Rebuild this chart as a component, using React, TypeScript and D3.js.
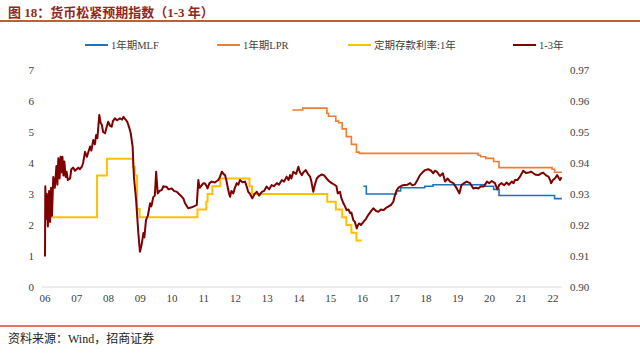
import React from "react";
import * as d3 from "d3";

const W = 640;
const H = 353;

const yearTicks = [2006, 2007, 2008, 2009, 2010, 2011, 2012, 2013, 2014, 2015, 2016, 2017, 2018, 2019, 2020, 2021, 2022];
const leftTicks = [0, 1, 2, 3, 4, 5, 6, 7];
const rightTicks = [0.9, 0.91, 0.92, 0.93, 0.94, 0.95, 0.96, 0.97];

const seriesNames = ["1年期MLF", "1年期LPR", "定期存款利率:1年", "1-3年"];

const mlfDates = [2016.03, 2016.12, 2017.07, 2017.2, 2017.96, 2018.22, 2019.87, 2020.13, 2020.3, 2022.05, 2022.28];
const mlfValues = [3.25, 3.0, 3.1, 3.2, 3.25, 3.3, 3.25, 3.15, 2.95, 2.85, 2.85];

const lprDates = [2013.79, 2014.12, 2014.88, 2014.93, 2015.16, 2015.25, 2015.36, 2015.49, 2015.65, 2015.81, 2015.9, 2019.64, 2019.72, 2019.88, 2020.13, 2020.3, 2021.97, 2022.05, 2022.28];
const lprValues = [5.71, 5.77, 5.6, 5.51, 5.35, 5.3, 5.1, 4.85, 4.6, 4.35, 4.31, 4.25, 4.2, 4.15, 4.05, 3.85, 3.8, 3.7, 3.7];

const depDates = [2006.18, 2007.64, 2007.95, 2008.77, 2008.83, 2008.9, 2008.98, 2010.8, 2011.08, 2011.12, 2011.27, 2011.52, 2012.44, 2012.52, 2014.89, 2015.16, 2015.36, 2015.49, 2015.65, 2015.81, 2015.98];
const depValues = [2.25, 3.6, 4.14, 3.87, 3.6, 2.52, 2.25, 2.5, 2.75, 3.0, 3.25, 3.5, 3.25, 3.0, 2.75, 2.5, 2.25, 2.0, 1.75, 1.5, 1.5];

const y13Dates = [
  2006.0, 2006.01, 2006.03, 2006.06, 2006.09, 2006.13, 2006.16, 2006.19, 2006.22, 2006.26, 2006.31, 2006.36, 2006.39, 2006.42, 2006.46, 2006.49,
  2006.53, 2006.55, 2006.58, 2006.61, 2006.65, 2006.68, 2006.72, 2006.79, 2006.83, 2006.89, 2006.94, 2007.05, 2007.1, 2007.16, 2007.2, 2007.26,
  2007.32, 2007.42, 2007.46, 2007.52, 2007.57, 2007.61, 2007.65, 2007.71, 2007.75, 2007.79, 2007.83, 2007.89, 2007.94, 2007.99, 2008.05, 2008.1,
  2008.14, 2008.2, 2008.27, 2008.36, 2008.43, 2008.47, 2008.54, 2008.59, 2008.65, 2008.7, 2008.76, 2008.8, 2008.87, 2008.94, 2008.99, 2009.04,
  2009.1, 2009.13, 2009.18, 2009.24, 2009.31, 2009.35, 2009.41, 2009.46, 2009.5, 2009.55, 2009.61, 2009.68, 2009.73, 2009.78, 2009.83, 2009.89,
  2009.99, 2010.06, 2010.15, 2010.22, 2010.31, 2010.36, 2010.41, 2010.51, 2010.62, 2010.69, 2010.78, 2010.83, 2010.87, 2010.94, 2010.99, 2011.04,
  2011.09, 2011.12, 2011.18, 2011.25, 2011.35, 2011.46, 2011.51, 2011.57, 2011.62, 2011.67, 2011.72, 2011.75, 2011.8, 2011.83, 2011.87, 2011.93,
  2011.98, 2012.04, 2012.09, 2012.14, 2012.22, 2012.3, 2012.35, 2012.4, 2012.46, 2012.53, 2012.6, 2012.67, 2012.74, 2012.83, 2012.9, 2012.98,
  2013.06, 2013.14, 2013.21, 2013.3, 2013.37, 2013.46, 2013.53, 2013.61, 2013.67, 2013.72, 2013.76, 2013.82, 2013.91, 2013.98, 2014.03, 2014.09,
  2014.14, 2014.21, 2014.28, 2014.35, 2014.39, 2014.45, 2014.5, 2014.56, 2014.63, 2014.72, 2014.79, 2014.87, 2014.94, 2015.03, 2015.13, 2015.18,
  2015.22, 2015.29, 2015.34, 2015.4, 2015.45, 2015.5, 2015.56, 2015.61, 2015.65, 2015.71, 2015.76, 2015.82, 2015.86, 2015.89, 2015.95, 2016.03,
  2016.11, 2016.18, 2016.27, 2016.34, 2016.43, 2016.5, 2016.58, 2016.66, 2016.74, 2016.81, 2016.9, 2016.97, 2017.02, 2017.08, 2017.13, 2017.18,
  2017.26, 2017.34, 2017.42, 2017.5, 2017.57, 2017.65, 2017.73, 2017.81, 2017.89, 2017.97, 2018.07, 2018.16, 2018.23, 2018.28, 2018.34, 2018.44,
  2018.53, 2018.6, 2018.68, 2018.76, 2018.86, 2018.97, 2019.05, 2019.12, 2019.2, 2019.28, 2019.39, 2019.49, 2019.58, 2019.65, 2019.73, 2019.82,
  2019.92, 2019.99, 2020.07, 2020.17, 2020.25, 2020.31, 2020.38, 2020.46, 2020.54, 2020.61, 2020.7, 2020.76, 2020.8, 2020.88, 2020.96, 2021.01,
  2021.06, 2021.15, 2021.24, 2021.31, 2021.38, 2021.46, 2021.54, 2021.62, 2021.69, 2021.78, 2021.86, 2021.91, 2021.94, 2022.0, 2022.06, 2022.13,
  2022.19, 2022.22, 2022.27,
];
const y13Values = [
  0.98, 3.25, 2.2, 3.0, 1.95, 3.1, 2.1, 3.2, 2.3, 3.55, 3.2, 3.9, 3.3, 4.15, 3.5, 4.2,
  3.7, 4.2, 3.6, 4.05, 3.55, 3.72, 3.45, 3.5, 3.8, 3.85, 3.75, 3.85, 3.8, 3.88, 4.0, 4.36,
  4.2, 4.53, 4.4, 4.74, 4.6, 4.9, 4.8, 5.55, 5.3, 5.23, 5.0, 4.96, 5.15, 5.33, 5.2, 5.17,
  5.35, 5.44, 5.38, 5.44, 5.4, 5.49, 5.4, 5.33, 5.15, 4.96, 4.53, 3.56, 2.8, 1.74, 1.14, 1.35,
  1.74, 1.6, 2.16, 2.3, 2.7, 2.6, 2.9, 2.95, 3.72, 3.02, 3.1, 3.13, 3.25, 3.23, 3.23, 3.15,
  3.18, 3.1, 3.07, 3.0, 2.91, 2.85, 2.7, 2.54, 2.57, 2.6, 2.65, 3.45, 3.2, 3.29, 3.35, 3.34,
  3.25, 3.18, 3.35, 3.4, 3.37, 3.45, 3.55, 3.72, 3.65, 3.61, 3.4, 3.24, 3.0, 2.91, 3.1, 3.02,
  3.2, 3.35, 3.3, 3.45, 3.38, 3.4, 3.25, 3.07, 3.0, 2.86, 3.0, 3.07, 2.95, 3.07, 3.1, 3.24,
  3.15, 3.29, 3.25, 3.35, 3.3, 3.45, 3.4, 3.56, 3.45, 3.61, 3.5, 3.72, 3.65, 3.88, 3.7, 3.61,
  3.7, 3.77, 3.65, 3.56, 3.4, 3.07, 3.3, 3.5, 3.58, 3.63, 3.6, 3.5, 3.42, 3.35, 3.29, 3.25,
  3.02, 3.07, 2.85, 2.7, 2.6, 2.48, 2.5, 2.38, 2.4, 2.16, 2.1, 1.89, 2.0, 2.05, 2.0, 2.1,
  2.2, 2.32, 2.45, 2.54, 2.45, 2.43, 2.5, 2.48, 2.55, 2.59, 2.65, 2.75, 2.95, 3.13, 3.2, 3.24,
  3.28, 3.29, 3.3, 3.35, 3.28, 3.31, 3.45, 3.61, 3.7, 3.77, 3.8, 3.75, 3.67, 3.75, 3.72, 3.58,
  3.67, 3.4, 3.5, 3.4, 3.35, 3.18, 3.02, 3.29, 3.35, 3.4, 3.35, 3.18, 3.2, 3.18, 3.25, 3.24,
  3.4, 3.35, 3.42, 3.35, 3.15, 3.3, 3.35, 3.28, 3.37, 3.3, 3.4, 3.35, 3.45, 3.45, 3.56, 3.65,
  3.75, 3.68, 3.69, 3.72, 3.67, 3.62, 3.61, 3.66, 3.69, 3.6, 3.56, 3.45, 3.35, 3.45, 3.5, 3.61,
  3.5, 3.45, 3.54,
];

const colors = ["#1f72c0", "#ed7d31", "#ffc000", "#7f0000"];

type P = [number, number];
const zip = (a: number[], b: number[]): P[] => a.map((d, i) => [d, b[i]]);

export default function App() {
  const x = d3.scaleLinear().domain([2006, 2022]).range([45, 553]);
  const y = d3.scaleLinear().domain([0, 7]).range([287, 70]);
  const yR = d3.scaleLinear().domain([0.9, 0.97]).range([287, 70]);

  const stepLine = d3
    .line<P>()
    .x((d) => x(d[0]))
    .y((d) => y(d[1]))
    .curve(d3.curveStepAfter);
  const plainLine = d3
    .line<P>()
    .x((d) => x(d[0]))
    .y((d) => y(d[1]));

  const font = "'Liberation Serif', 'Times New Roman', 'Noto Sans CJK SC', serif";
  const legendX = [85, 217, 348, 513];

  return (
    <svg width={W} height={H} style={{ position: "absolute", left: 0, top: 0 }} fontFamily={font}>
      <rect x={0} y={0} width={W} height={H} fill="#fff" />
      <text x={8} y={17} fontSize={13} fontWeight="bold" fill="#8e2a1e">
        图 18：货币松紧预期指数（1-3 年）
      </text>
      <line x1={0} x2={W} y1={21} y2={21} stroke="#c0612c" strokeWidth={2} />

      {seriesNames.map((n, i) => (
        <g key={n}>
          <line x1={legendX[i]} x2={legendX[i] + 23} y1={45} y2={45} stroke={colors[i]} strokeWidth={2} />
          <text x={legendX[i] + 26} y={49} fontSize={10.5} fill="#404040">
            {n}
          </text>
        </g>
      ))}

      <line x1={42} x2={562} y1={y(0)} y2={y(0)} stroke="#d9d9d9" strokeWidth={1} />

      {leftTicks.map((t) => (
        <text key={"l" + t} x={34} y={y(t) + 4} fontSize={11} textAnchor="end" fill="#404040">
          {t}
        </text>
      ))}
      {rightTicks.map((t) => (
        <text key={"r" + t} x={570} y={yR(t) + 4} fontSize={11} textAnchor="start" fill="#404040">
          {t.toFixed(2)}
        </text>
      ))}
      {yearTicks.map((t) => (
        <text key={"x" + t} x={x(t)} y={302} fontSize={11} textAnchor="middle" fill="#404040">
          {String(t).slice(2)}
        </text>
      ))}

      <path d={stepLine(zip(depDates, depValues)) || ""} fill="none" stroke={colors[2]} strokeWidth={2} />
      <path d={stepLine(zip(lprDates, lprValues)) || ""} fill="none" stroke={colors[1]} strokeWidth={1.6} />
      <path d={stepLine(zip(mlfDates, mlfValues)) || ""} fill="none" stroke={colors[0]} strokeWidth={1.6} />
      <path d={plainLine(zip(y13Dates, y13Values)) || ""} fill="none" stroke={colors[3]} strokeWidth={2} strokeLinejoin="round" />

      <line x1={0} x2={W} y1={326} y2={326} stroke="#d9472b" strokeWidth={1.5} />
      <text x={8} y={343} fontSize={12} fill="#222">
        资料来源：Wind，招商证券
      </text>
    </svg>
  );
}
